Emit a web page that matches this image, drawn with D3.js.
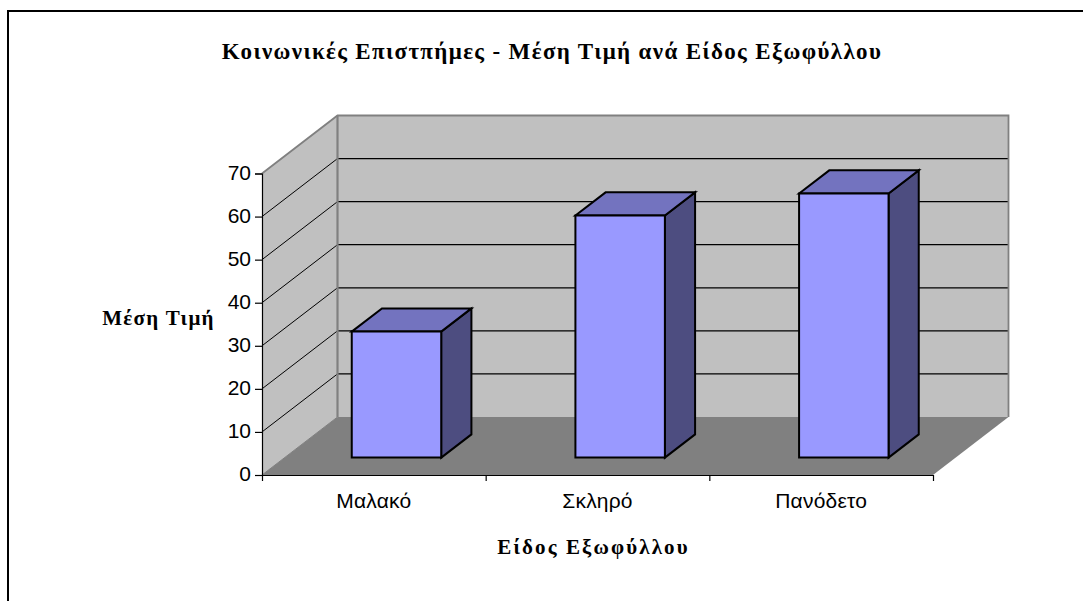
<!DOCTYPE html>
<html><head><meta charset="utf-8">
<script src="https://cdn.jsdelivr.net/npm/d3@7"></script>
<style>html,body{margin:0;padding:0;background:#fff}svg{display:block}</style></head>
<body><svg id="c" width="1083" height="601"></svg>
<script>
const categories = ["Μαλακό","Σκληρό","Πανόδετο"];
const values = [29.25, 56.2, 61.3];
const yTicks = [0,10,20,30,40,50,60,70];
const titleText = "Κοινωνικές Επιστπήμες - Μέση Τιμή ανά Είδος Εξωφύλλου";
const yTitle = "Μέση Τιμή";
const xTitle = "Είδος Εξωφύλλου";

const svg = d3.select("#c");
const L=262,R=933,B=475,T=173.5, DX=75.5, DY=-58;
const x = d3.scaleBand().domain(categories).range([L,R]).paddingInner(0.6).paddingOuter(0.3);
const xEdge = d3.scaleBand().domain(categories).range([L,R]);
const y = d3.scaleLinear().domain([0,70]).range([B,T]);
const line = d3.line();
const poly=(pts,fill,stroke,sw)=>svg.append("path").attr("d",line(pts)+"Z").attr("fill",fill).attr("stroke",stroke||"none").attr("stroke-width",sw||0).attr("stroke-linejoin","miter");
const seg=(a,b,c,w)=>svg.append("path").attr("d",line([a,b])).attr("fill","none").attr("stroke",c).attr("stroke-width",w);

// frame
svg.append("path").attr("d",line([[8,601],[8,11],[1083,11]])).attr("fill","none").attr("stroke","#000").attr("stroke-width",2);

// walls
poly([[L,T],[L+DX,T+DY],[L+DX,B+DY],[L,B]],"#c0c0c0");
poly([[L+DX,T+DY],[R+DX,T+DY],[R+DX,B+DY],[L+DX,B+DY]],"#c0c0c0");
poly([[L,B],[L+DX,B+DY],[R+DX,B+DY],[R,B]],"#808080");
// gridlines
yTicks.slice(1,-1).forEach(t=>{
  seg([L,y(t)],[L+DX,y(t)+DY],"#000",1);
  seg([L+DX,y(t)+DY],[R+DX,y(t)+DY],"#000",1.2);
});
// wall borders
svg.append("path").attr("d",line([[L,T],[L+DX,T+DY],[R+DX,T+DY],[R+DX,B+DY]])).attr("fill","none").attr("stroke","#808080").attr("stroke-width",1.8);
seg([L+DX,T+DY],[L+DX,B+DY],"#808080",2.2);
seg([L+DX,B+DY],[L,B],"#808080",1);

// bars
const fz=0.3, bz=0.7;
categories.forEach((c,i)=>{
  const x0=x(c)+fz*DX, x1=x0+x.bandwidth(), ddx=(bz-fz)*DX, ddy=(bz-fz)*DY;
  const yb=B+fz*DY, yt=y(values[i])+fz*DY;
  poly([[x1,yb],[x1+ddx,yb+ddy],[x1+ddx,yt+ddy],[x1,yt]],"#4d4d80","#000",2);
  poly([[x0,yt],[x0+ddx,yt+ddy],[x1+ddx,yt+ddy],[x1,yt]],"#7373bf","#000",2);
  poly([[x0,yb],[x1,yb],[x1,yt],[x0,yt]],"#9999ff","#000",2);
});

// axes
const yAxis=d3.axisLeft(y).tickValues(yTicks).tickSizeOuter(0).tickSize(7).tickPadding(4);
const gy=svg.append("g").attr("transform",`translate(${L},0)`).call(yAxis);
const gx=svg.append("g").attr("transform",`translate(0,${B})`)
  .call(d3.axisBottom(d3.scaleLinear().domain([0,categories.length]).range([L,R])).tickValues(d3.range(categories.length+1)).tickFormat("").tickSize(6).tickSizeOuter(0));
[gy,gx].forEach(g=>{g.selectAll("path,line").attr("stroke","#000").attr("stroke-width",1.2);
  g.selectAll("text").attr("font-family","'Liberation Sans'").attr("font-size",21).attr("fill","#000").attr("dy","0.28em");});
categories.forEach(c=>{
  svg.append("text").attr("x",xEdge(c)+xEdge.bandwidth()/2).attr("y",508).attr("text-anchor","middle")
    .attr("font-family","'Liberation Sans'").attr("font-size",21).attr("letter-spacing",0.2).attr("fill","#000").text(c);
});

const serif=(t,xp,yp,s,ls)=>svg.append("text").attr("x",xp).attr("y",yp).attr("text-anchor","middle")
  .attr("font-family","'Liberation Serif'").attr("font-weight","bold").attr("font-size",s).attr("letter-spacing",ls).attr("fill","#000").text(t);
serif(titleText,552,59,23,1.36);
serif(yTitle,158.5,325,21,1.3);
serif(xTitle,593.5,554,21,2.1);
</script></body></html>
